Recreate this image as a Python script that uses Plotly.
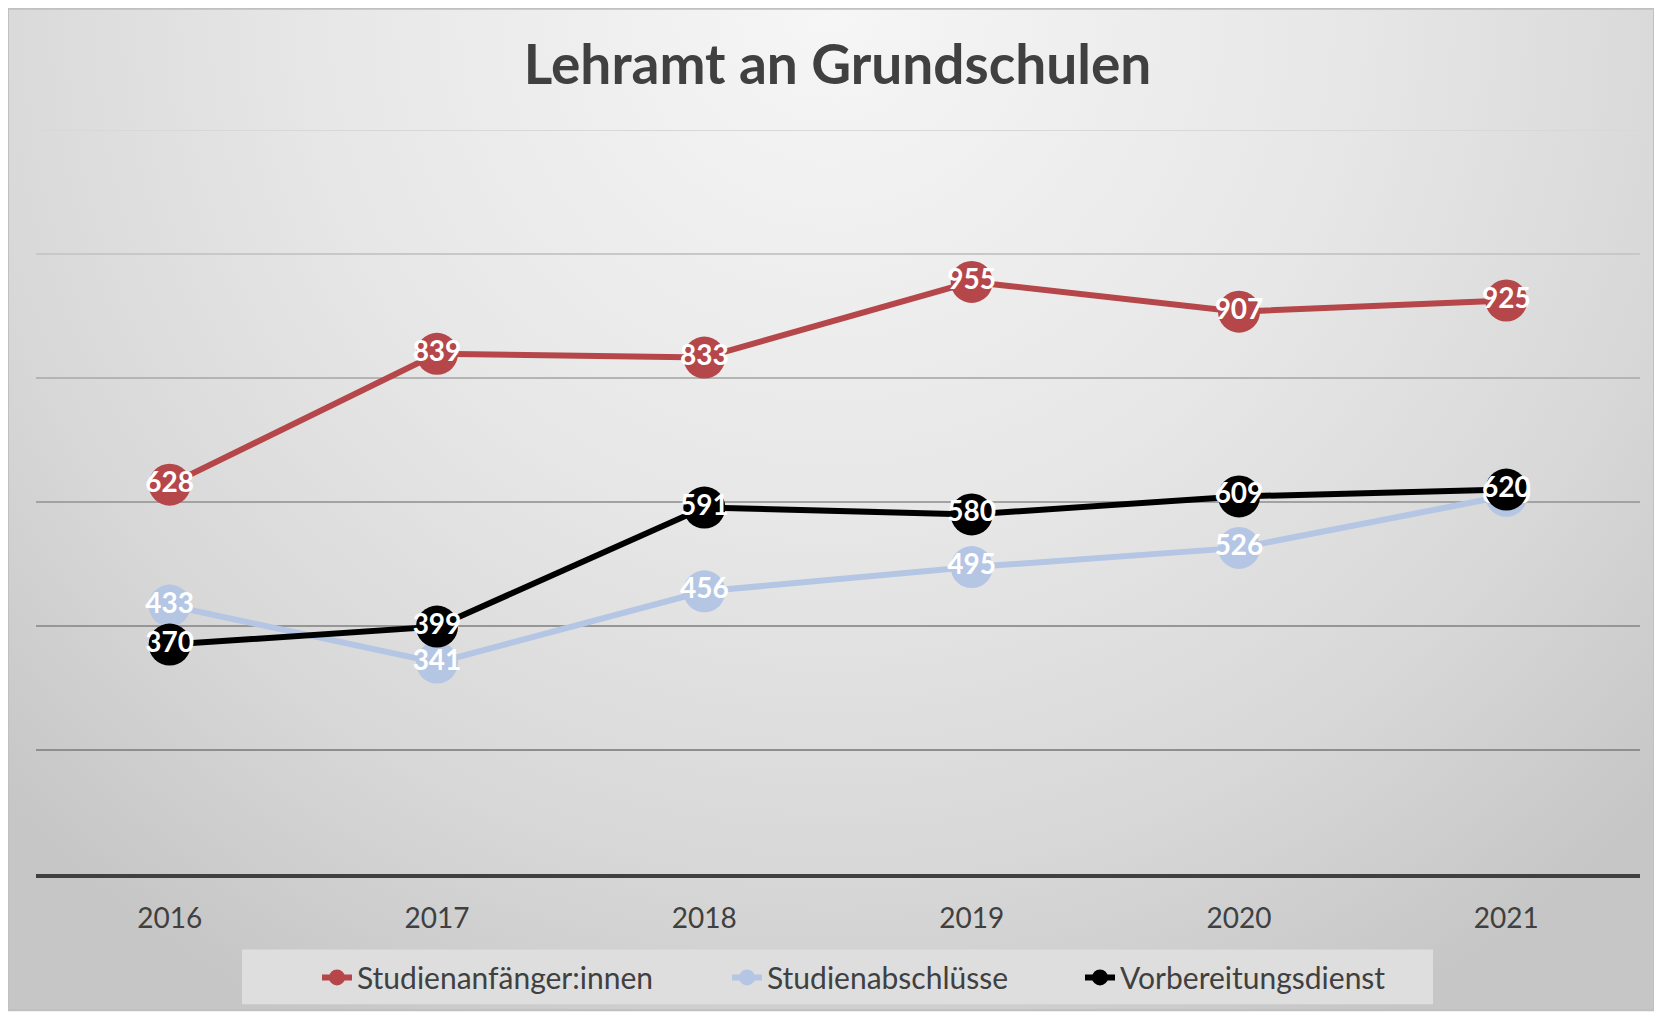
import base64
import plotly.graph_objects as go

years = ["2016", "2017", "2018", "2019", "2020", "2021"]
studienanfaenger = [628, 839, 833, 955, 907, 925]
studienabschluesse = [433, 341, 456, 495, 526, 610]
vorbereitungsdienst = [370, 399, 591, 580, 609, 620]
grid_values = [200, 400, 600, 800, 1000, 1200]
grid_colors = ["#8e8e8e", "#969696", "#a2a2a2", "#b4b4b4", "#c8c8c8", "#d8d8d8"]

W, H = 1646, 1007
ML, MR, MT, MB = 28, 14, 122, 137
PW, PH = W - ML - MR, H - MT - MB

def px_x(v):
    return (v - ML) / PW

def px_y(v):
    return (H - MB - v) / PH

svg = f'''<svg xmlns="http://www.w3.org/2000/svg" width="{W}" height="{H}" viewBox="0 0 {W} {H}" preserveAspectRatio="none">
<defs><radialGradient id="g" gradientUnits="userSpaceOnUse" cx="{W/2}" cy="0" r="1150">
<stop offset="0" stop-color="#f6f6f6"/><stop offset="0.45" stop-color="#e7e7e7"/>
<stop offset="0.75" stop-color="#d8d8d8"/><stop offset="1" stop-color="#c6c6c6"/></radialGradient></defs>
<rect x="0" y="0" width="{W}" height="{H}" fill="url(#g)"/></svg>'''
src = "data:image/svg+xml;base64," + base64.b64encode(svg.encode()).decode()

FONT = "Lato"
series = [
    ("Studienanfänger:innen", studienanfaenger, "#b5474a", "legend", 309),
    ("Studienabschlüsse", studienabschluesse, "#b4c6e4", "legend2", 719),
    ("Vorbereitungsdienst", vorbereitungsdienst, "#000000", "legend3", 1072),
]

fig = go.Figure()
for name, vals, col, lg, _ in series:
    fig.add_trace(go.Scatter(
        x=years, y=vals, name=name, mode="lines+markers+text", legend=lg,
        line=dict(color=col, width=6),
        marker=dict(color=col, size=42),
        text=[str(v) for v in vals], textposition="middle center",
        textfont=dict(family=FONT, size=28, color="white", weight="bold"),
        cliponaxis=False,
    ))

shapes = []
for gv, gc in zip(grid_values, grid_colors):
    shapes.append(dict(type="line", xref="paper", x0=0, x1=1, yref="y", y0=gv, y1=gv,
                       line=dict(color=gc, width=2), layer="below"))
# legend background box
shapes.append(dict(type="rect", xref="paper", yref="paper",
                   x0=px_x(234), x1=px_x(1425), y0=px_y(1001), y1=px_y(946),
                   fillcolor="#dedede", line=dict(width=0), layer="below"))
# outer border
shapes.append(dict(type="rect", xref="paper", yref="paper",
                   x0=px_x(0), x1=px_x(W), y0=px_y(H), y1=px_y(0),
                   fillcolor="rgba(0,0,0,0)", line=dict(color="#c0c0c0", width=2), layer="below"))

legends = {}
for name, vals, col, lg, lx in series:
    legends[lg] = dict(orientation="h", x=px_x(lx), xanchor="left", y=px_y(974), yanchor="middle",
                       bgcolor="rgba(0,0,0,0)", font=dict(family=FONT, size=30, color="#404040"),
                       itemwidth=30)

fig.update_layout(
    width=W, height=H,
    margin=dict(l=ML, r=MR, t=MT, b=MB),
    paper_bgcolor="rgba(0,0,0,0)", plot_bgcolor="rgba(0,0,0,0)",
    title=dict(text="<b>Lehramt an Grundschulen</b>", x=0.504, xanchor="center",
               y=1 - 57 / H, yanchor="middle", yref="container",
               font=dict(family=FONT, size=55, color="#404040")),
    images=[dict(source=src, xref="paper", yref="paper", x=px_x(0), y=px_y(0),
                 sizex=W / PW, sizey=H / PH, xanchor="left", yanchor="top",
                 sizing="stretch", layer="below")],
    shapes=shapes,
    xaxis=dict(type="category", range=[-0.5, 5.5], showgrid=False, zeroline=False,
               showline=True, linecolor="#404040", linewidth=4,
               ticks="outside", ticklen=0, ticklabelstandoff=16,
               tickfont=dict(family=FONT, size=28, color="#404040")),
    yaxis=dict(range=[0, 1200], showgrid=False, zeroline=False, showticklabels=False,
               showline=False, fixedrange=True),
    showlegend=True,
    **legends,
)

fig.write_html("out.html")
